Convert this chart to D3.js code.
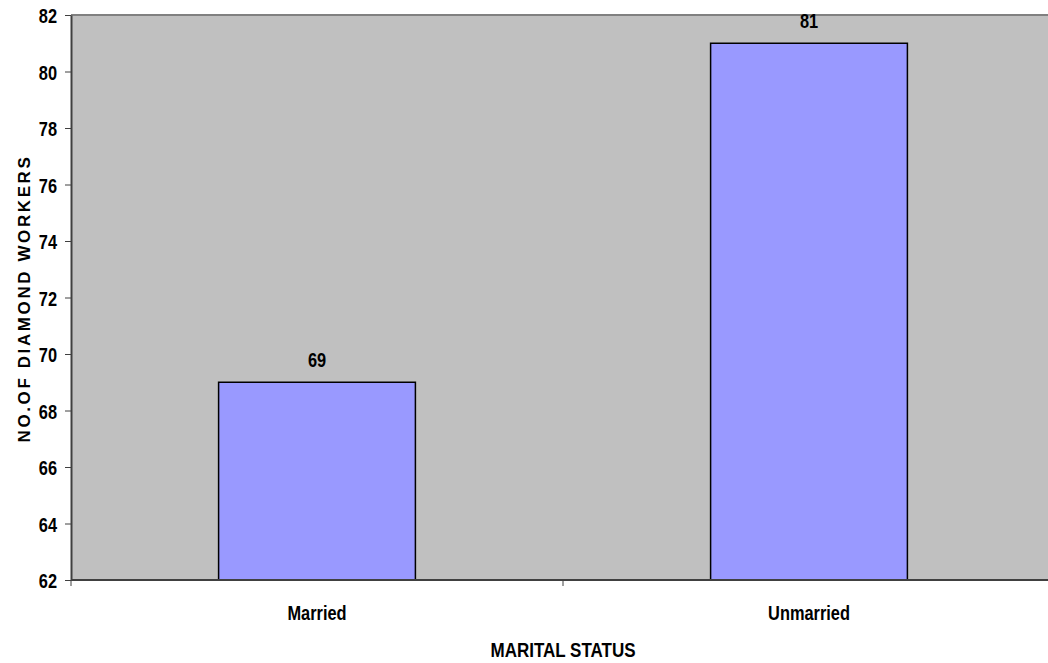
<!DOCTYPE html>
<html>
<head>
<meta charset="utf-8">
<script src="https://cdn.jsdelivr.net/npm/d3@7/dist/d3.min.js"></script>
<style>
  html, body { margin: 0; padding: 0; background: #fff; }
  svg { display: block; }
  text { font-family: "Liberation Sans", Arial, sans-serif; font-weight: bold; fill: #000; }
</style>
</head>
<body>
<svg id="chart" width="1048" height="663"></svg>
<script>
// Marital status of diamond workers
const categories = ["Married", "Unmarried"];
const workers = [69, 81];
const yTicks = [62, 64, 66, 68, 70, 72, 74, 76, 78, 80, 82];
const xTitle = "MARITAL STATUS";
const yTitle = "NO.OF DIAMOND WORKERS";

const plot = { left: 71, top: 15, right: 1055, bottom: 580 };
const condense = 0.78;   // horizontal squeeze for the condensed label face
const labelSize = 21;

const svg = d3.select("#chart");

const x = d3.scaleBand()
  .domain(categories)
  .range([plot.left, plot.right])
  .paddingInner(0.6)
  .paddingOuter(0.3);

const y = d3.scaleLinear()
  .domain([62, 82])
  .range([plot.bottom, plot.top]);

// place a condensed text item anchored at (px, py)
function label(parent, px, py, str, size, sx, anchor) {
  return parent.append("text")
    .attr("transform", `translate(${px},${py}) scale(${sx},1)`)
    .attr("text-anchor", anchor || "middle")
    .attr("font-size", size)
    .text(str);
}

// plot background
svg.append("rect")
  .attr("x", plot.left).attr("y", plot.top)
  .attr("width", plot.right - plot.left)
  .attr("height", plot.bottom - plot.top)
  .attr("fill", "#c0c0c0");

// top frame line
svg.append("line")
  .attr("x1", plot.left).attr("x2", plot.right)
  .attr("y1", plot.top).attr("y2", plot.top)
  .attr("stroke", "#808080").attr("stroke-width", 2);

// bars
svg.append("g").selectAll("rect")
  .data(categories)
  .join("rect")
  .attr("x", d => x(d))
  .attr("y", (d, i) => y(workers[i]))
  .attr("width", x.bandwidth())
  .attr("height", (d, i) => y(62) - y(workers[i]))
  .attr("fill", "#9999ff")
  .attr("stroke", "#000")
  .attr("stroke-width", 1.5);

// value labels
const vals = svg.append("g");
categories.forEach((c, i) => {
  label(vals, x(c) + x.bandwidth() / 2, y(workers[i]) - 15, workers[i], labelSize, condense);
});

// y axis
const yAxis = svg.append("g")
  .attr("transform", `translate(${plot.left},0)`)
  .call(d3.axisLeft(y).tickValues(yTicks).tickSize(6).tickSizeOuter(0));
yAxis.attr("font-family", null).attr("font-size", null);
yAxis.select(".domain").attr("stroke", "#404040").attr("stroke-width", 2);
yAxis.selectAll(".tick line").attr("stroke", "#404040").attr("stroke-width", 1);
yAxis.selectAll(".tick text")
  .attr("x", null)
  .attr("dy", "0.36em")
  .attr("font-size", labelSize)
  .attr("fill", "#000")
  .attr("text-anchor", "end")
  .attr("transform", `translate(-14,0) scale(${condense},1)`);

// x axis: ticks at category boundaries
const boundaries = [plot.left, (x(categories[0]) + x.bandwidth() + x(categories[1])) / 2];
const xAxis = svg.append("g").attr("transform", `translate(0,${plot.bottom})`);
xAxis.append("line")
  .attr("x1", plot.left).attr("x2", plot.right)
  .attr("y1", 0).attr("y2", 0)
  .attr("stroke", "#404040").attr("stroke-width", 2);
xAxis.selectAll(".btick")
  .data(boundaries)
  .join("line")
  .attr("x1", d => d).attr("x2", d => d)
  .attr("y1", 0).attr("y2", 6)
  .attr("stroke", "#404040").attr("stroke-width", 1);
categories.forEach(c => {
  label(xAxis, x(c) + x.bandwidth() / 2, 40, c, labelSize, condense);
});

// axis titles
label(svg, 563, 657, xTitle, 20, 0.85);

svg.append("text")
  .attr("transform", `translate(30,${(plot.top + plot.bottom) / 2 + 1}) rotate(-90)`)
  .attr("text-anchor", "middle")
  .attr("font-size", 17)
  .attr("letter-spacing", 2.6)
  .text(yTitle);
</script>
</body>
</html>
